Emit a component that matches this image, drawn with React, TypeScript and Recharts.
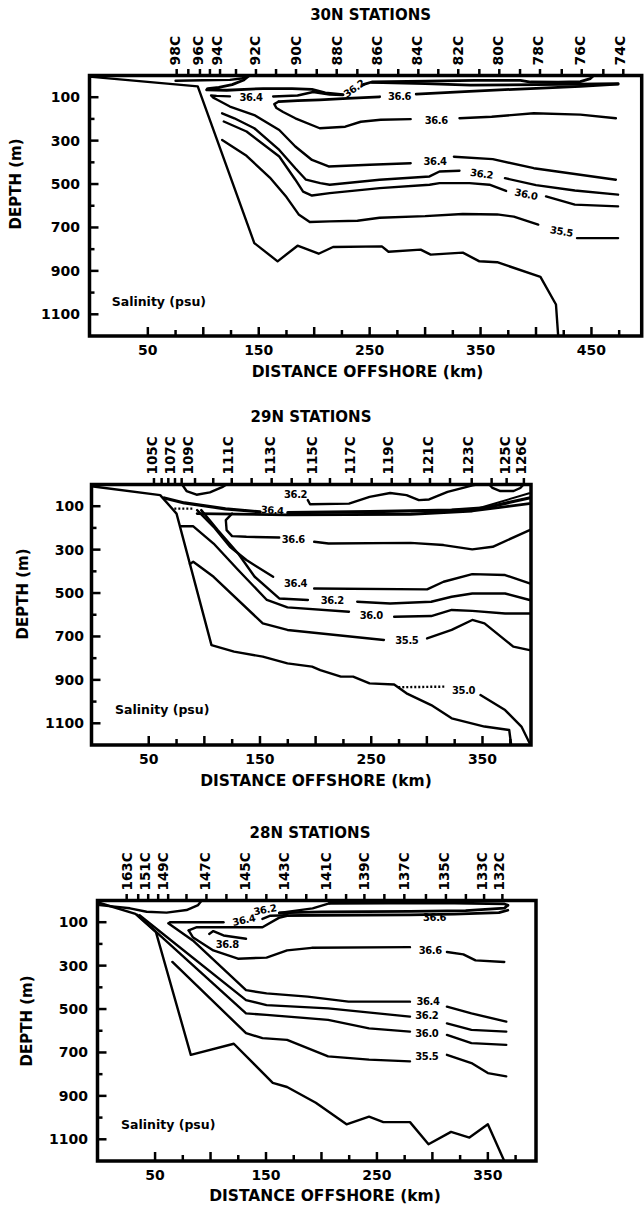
import React from 'react';
import { ComposedChart, Scatter, XAxis, YAxis, ReferenceArea } from 'recharts';

type Pt = [number, number];
type Lbl = [string, number, number, number];

const FONT = '"DejaVu Sans", "Liberation Sans", sans-serif';

// ---------- Panel 1 : 30N ----------
const p1StationTicks = [76.0, 86.5, 97.0, 106.0, 115.1, 129.5, 147.5, 165.6, 183.6, 202.3, 220.3, 238.9, 257.8, 275.8, 293.9, 311.9, 329.9, 348.9, 366.9, 385.6, 403.6, 423.2, 441.2, 460.7, 478.7];
const p1StationNames = ['98C', '96C', '94C', '92C', '90C', '88C', '86C', '84C', '82C', '80C', '78C', '76C', '74C'];
const p1StationPos = [74.5, 95.5, 112.6, 146.6, 183.3, 220.8, 256.4, 292.4, 329.9, 366, 402, 439.7, 475.7];
const p1BottomTicks = [50, 75, 100, 125, 150, 175, 200, 225, 250, 275, 300, 325, 350, 375, 400, 425, 450, 475];

const p1Topo: Pt[] = [[-3, 5], [95, 50], [146, 772], [167, 856], [185, 784], [204, 821], [217, 790], [261, 787], [267, 812], [296, 802], [305, 825], [334, 816], [349, 856], [365, 860], [404, 928], [418, 1055], [420, 1200]];
const p1LensA: Pt[] = [[75, 24], [100, 22], [124, 20], [134, 14], [140, 4]];
const p1C362a: Pt[] = [[141, 2], [136, 22], [126, 42], [114, 55], [104, 60], [103, 66], [121, 68], [154, 60], [180, 60], [198, 64], [210, 80], [226, 88]];
const p1C362b: Pt[] = [[244, 42], [252, 30], [300, 26], [345, 22], [386, 22], [395, 30], [420, 31], [440, 28], [449, 14], [452, 0]];
const p1Surf2: Pt[] = [[252, 32], [300, 37], [341, 44], [400, 42], [474, 38]];
const p1C364a: Pt[] = [[163, 97], [185, 92], [199, 76], [214, 88], [226, 90]];
const p1C364b: Pt[] = [[124, 96], [112, 94], [107, 92], [109, 102], [113, 113], [124, 143], [146, 182], [168.5, 251], [183, 327], [198, 389], [213, 419], [250, 411], [287, 404]];
const p1C364c: Pt[] = [[326, 374], [361, 385], [398, 427], [472, 480]];
const p1C366a: Pt[] = [[168, 120], [185, 116], [205, 112], [230, 105], [259, 98]];
const p1C366b: Pt[] = [[292, 86], [340, 73], [395, 60], [440, 50], [474, 40]];
const p1C366c: Pt[] = [[168, 120], [164, 132], [166, 150], [172, 168], [183, 197], [205, 243], [228, 236], [242, 213], [260, 204], [287, 201]];
const p1C366d: Pt[] = [[331, 197], [360, 190], [398, 174], [440, 180], [472, 197]];
const p1C362c: Pt[] = [[117, 174], [128, 197], [146, 243], [168.5, 343], [183, 427], [192.6, 480], [205.5, 496], [214, 503], [259, 480], [304, 465], [313, 442], [331, 439]];
const p1C362d: Pt[] = [[372, 473], [400, 505], [435, 530], [474, 549]];
const p1C360a: Pt[] = [[118.5, 212], [139, 258], [168.5, 373], [183, 480], [190, 535], [198, 553], [214, 542], [259, 519], [304, 503], [313, 496], [340, 496], [358, 503], [373, 532]];
const p1C360b: Pt[] = [[409, 557], [435, 595], [474, 603]];
const p1C355a: Pt[] = [[117, 297], [139, 370], [160, 470], [175, 560], [186, 640], [196, 675], [214, 672], [239, 669], [259, 655], [300, 648], [334, 638], [365, 640], [380, 650], [402, 687]];
const p1C355b: Pt[] = [[437, 749], [474, 749]];
const p1Labels: Lbl[] = [['36.2', 236, 60, -35], ['36.4', 143, 99, 0], ['36.6', 277, 97, 0], ['36.6', 310, 205, 0], ['36.4', 309, 398, 0], ['36.2', 351, 453, 8], ['36.0', 391, 547, 12], ['35.5', 423, 718, 10]];

// ---------- Panel 2 : 29N ----------
const p2StationTicks = [54.7, 61.6, 67.6, 73.6, 79.6, 91.6, 108.0, 124.6, 142.5, 160.5, 178.5, 194.9, 212.9, 232.4, 250.4, 268.4, 284.8, 302.8, 320.8, 340.3, 358.2, 371.7, 387.2];
const p2StationNames = ['105C', '107C', '109C', '111C', '113C', '115C', '117C', '119C', '121C', '123C', '125C', '126C'];
const p2StationPos = [52.7, 69.1, 85.5, 121.5, 159.0, 196.5, 230.9, 265.3, 301.3, 337.2, 370.2, 385];
const p2BottomTicks = [50, 75, 100, 125, 150, 175, 200, 225, 250, 275, 300, 325, 350, 375];

const p2Topo: Pt[] = [[-1.5, 8], [60.3, 49], [75, 134], [106.4, 740], [126.7, 770], [152.5, 793], [174.7, 824], [196.8, 839], [204.2, 855], [222.7, 885], [233.7, 885], [248.5, 916], [270.6, 921], [281.7, 962], [303.9, 1016], [322.3, 1077], [351.8, 1115], [374, 1131], [375.8, 1200]];
const p2LensL: Pt[] = [[80, 0], [84, 30], [93, 47], [105, 36], [116, 12], [120, 0]];
const p2LensR: Pt[] = [[356, 0], [359, 16], [366, 30], [378, 30], [384, 16], [387, 0]];
const p2C362a: Pt[] = [[193, 72], [195, 91], [230, 88], [248.5, 57], [267, 39], [281.7, 49], [292.8, 72], [302, 69], [318.6, 34], [333.4, 14], [341, 4], [345, 0]];
const p2Top1a: Pt[] = [[64, 62], [82, 85], [119, 112], [150, 126]];
const p2Top1b: Pt[] = [[175, 130], [248.5, 125], [322.3, 118], [351.8, 108], [392, 62]];
const p2Top2: Pt[] = [[93.5, 134], [174.7, 140], [285.4, 137], [340.8, 122], [392, 88]];
const p2Top3: Pt[] = [[300, 122], [345, 112], [392, 40]];
const p2C366a: Pt[] = [[124.9, 134], [119.3, 164], [120, 210], [124.9, 238], [137.8, 241], [167.3, 244]];
const p2C366b: Pt[] = [[198.7, 264], [211.6, 272], [285.4, 269], [315, 279], [340.8, 299], [359.2, 287], [392.4, 210]];
const p2C364a: Pt[] = [[93.5, 118], [108.3, 195], [123, 287], [137.8, 348], [161.8, 425]];
const p2C364b: Pt[] = [[198.7, 479], [300.2, 483], [315, 448], [340.8, 413], [370.3, 417], [392.4, 456]];
const p2C362b: Pt[] = [[97.2, 118], [112, 210], [130.4, 318], [145.2, 425], [167.3, 525], [193.1, 532]];
const p2C362c: Pt[] = [[237.4, 540], [267, 548], [303.9, 540], [322.3, 517], [340.8, 502], [370.3, 502], [392.4, 532]];
const p2C360a: Pt[] = [[78.7, 192], [89.8, 192], [108.3, 272], [130.4, 394], [156.2, 532], [174.7, 566], [230, 586]];
const p2C360b: Pt[] = [[270.6, 609], [303.9, 606], [322.3, 578], [340.8, 582], [370.3, 594], [392.4, 594]];
const p2C355a: Pt[] = [[87, 366], [90, 356], [108.3, 425], [152.5, 640], [174.7, 670], [261.4, 716]];
const p2C355b: Pt[] = [[300.2, 709], [322.3, 670], [340.8, 624], [351.8, 640], [377.7, 747], [392.4, 763]];
const p2C350dot: Pt[] = [[274.3, 934], [316.8, 931]];
const p2C350: Pt[] = [[348.2, 970], [370.3, 1039], [385, 1115], [392.4, 1192]];
const p2Dot: Pt[] = [[73, 111], [90, 111]];
const p2Labels: Lbl[] = [['36.2', 182, 47, 0], ['36.4', 161, 118, 5], ['36.6', 180, 254, 0], ['36.4', 182, 456, 0], ['36.2', 215, 534, 0], ['36.0', 250, 601, 0], ['35.5', 282, 716, 0], ['35.0', 333, 947, 0]];

// ---------- Panel 3 : 28N ----------
const p3StationTicks = [24.4, 34.8, 43.8, 52.8, 61.8, 78.3, 96.3, 114.3, 132.3, 150.3, 168.3, 186.3, 204.2, 222.2, 238.7, 256.7, 274.7, 294.2, 312.2, 330.2, 346.6, 363.1];
const p3StationNames = ['163C', '151C', '149C', '147C', '145C', '143C', '141C', '139C', '137C', '135C', '133C', '132C'];
const p3StationPos = [24.4, 40.8, 57.3, 94.8, 130.8, 166.8, 204.3, 238.7, 274.7, 310.7, 345.2, 360.2];
const p3BottomTicks = [50, 75, 100, 125, 150, 175, 200, 225, 250, 275, 300, 325, 350, 375];

const p3Topo: Pt[] = [[-2, 8], [32.3, 62], [50.8, 146], [82.2, 711], [121, 660], [156.1, 840], [169, 859], [194.9, 932], [222.6, 1031], [242.9, 996], [255.8, 1021], [279.8, 1021], [296.5, 1123], [316.8, 1066], [333.4, 1092], [350, 1031], [364.8, 1200]];
const p3LensL: Pt[] = [[-2, 20], [27.4, 36], [42.4, 52], [60.4, 56], [78.4, 44], [88.8, 21], [92, 0]];
const p3C362a: Pt[] = [[162, 57], [192, 36], [207, 13], [212, 0]];
const p3Sa: Pt[] = [[207, 13], [260, 12], [320, 12], [365, 16], [368, 22]];
const p3Sb: Pt[] = [[162, 57], [200, 52], [280, 50], [330, 47], [365, 35], [368, 22]];
const p3Sc: Pt[] = [[166, 70], [200, 68], [280, 66], [320, 63], [360, 56], [368, 45]];
const p3C364a: Pt[] = [[63.7, 100], [111.7, 100]];
const p3C364b: Pt[] = [[146.8, 85], [154, 70], [169, 68]];
const p3C366a: Pt[] = [[80.3, 138], [87.7, 123], [146.8, 123], [161.6, 80], [170, 70]];
const p3C368: Pt[] = [[98.8, 154], [102.5, 141], [111.7, 161], [132, 176]];
const p3C366b: Pt[] = [[80.3, 138], [84, 169], [102.5, 230], [124.7, 268], [150.5, 263], [169, 230], [191.2, 218], [279.8, 215]];
const p3C366c: Pt[] = [[313.1, 237], [327.9, 248], [338.9, 276], [364.8, 283]];
const p3C364c: Pt[] = [[63.7, 100], [61.9, 105], [84, 184], [132, 413], [150.5, 428], [187.5, 443], [224.4, 466], [279.8, 466]];
const p3C364d: Pt[] = [[313.1, 489], [335.2, 520], [366.6, 558]];
const p3C362b: Pt[] = [[36, 68], [132, 459], [150.5, 482], [206, 497], [279.8, 535]];
const p3C362c: Pt[] = [[313.1, 566], [335.2, 596], [366.6, 604]];
const p3C360a: Pt[] = [[34, 66], [132, 520], [150.5, 527], [206, 550], [242.9, 589], [279.8, 604]];
const p3C360b: Pt[] = [[313.1, 619], [335.2, 657], [366.6, 665]];
const p3C355a: Pt[] = [[65.6, 283], [132, 611], [146.8, 634], [169, 642], [206, 718], [242.9, 733], [279.8, 741]];
const p3C355b: Pt[] = [[313.1, 711], [335.2, 749], [350, 795], [366.6, 810]];
const p3Labels: Lbl[] = [['36.2', 149, 42, -10], ['36.4', 130, 90, -12], ['36.6', 302, 76, 0], ['36.8', 115, 200, 0], ['36.6', 298, 230, 0], ['36.4', 296, 466, 0], ['36.2', 295, 528, 0], ['36.0', 295, 610, 0], ['35.5', 295, 720, 0]];

const yTicks = [100, 200, 300, 400, 500, 600, 700, 800, 900, 1000, 1100];

type Series = { pts: Pt[]; w?: number; dash?: boolean };

type PanelCfg = {
  top: number;
  height: number;
  margin: { top: number; right: number; bottom: number; left: number };
  xDomain: [number, number];
  bottomTicks: number[];
  stationTicks: number[];
  stationNames: string[];
  stationPos: number[];
  stationFont: number;
  yGap: number;
  lines: Series[];
  labels: Lbl[];
};

const toXY = (a: Pt[]) => a.map(([x, y]) => ({ x, y }));

const NoShape = () => <g />;

function Panel({ cfg }: { cfg: PanelCfg }) {
  const tickSet = new Set(cfg.stationTicks);
  const nameMap = new Map<number, string>();
  cfg.stationPos.forEach((p, i) => nameMap.set(p, cfg.stationNames[i]));
  const topTicks = Array.from(new Set([...cfg.stationTicks, ...cfg.stationPos])).sort((a, b) => a - b);

  const TopTick = (props: any) => {
    const { x, y, payload } = props;
    const v = payload.value;
    const name = nameMap.get(v);
    return (
      <g>
        {tickSet.has(v) && <line x1={x} x2={x} y1={y} y2={y - 6.5} stroke="#000" strokeWidth={2.5} />}
        {name && (
          <text x={x} y={y - 10} dy="0.36em" textAnchor="start" transform={`rotate(-90, ${x}, ${y - 10})`}
            fontFamily={FONT} fontWeight="bold" fontSize={cfg.stationFont} fill="#000">{name}</text>
        )}
      </g>
    );
  };

  const BottomTick = (props: any) => {
    const { x, y, payload } = props;
    const v = payload.value;
    const major = v % 50 === 0;
    const labeled = v % 100 === 50;
    return (
      <g>
        <line x1={x} x2={x} y1={y} y2={y - (major ? 9 : 6)} stroke="#000" strokeWidth={2.5} />
        {labeled && (
          <text x={x} y={y + 19} textAnchor="middle" fontFamily={FONT} fontWeight="bold" fontSize={14} fill="#000">{v}</text>
        )}
      </g>
    );
  };

  const LeftTick = (props: any) => {
    const { x, y, payload } = props;
    const v = payload.value;
    const labeled = v % 200 === 100;
    return (
      <g>
        <line x1={x} x2={x + (labeled ? 9 : 5)} y1={y} y2={y} stroke="#000" strokeWidth={2.5} />
        {labeled && (
          <text x={x - cfg.yGap} y={y} dy="0.36em" textAnchor="end" fontFamily={FONT} fontWeight="bold" fontSize={14} fill="#000">{v}</text>
        )}
      </g>
    );
  };

  const LabelShape = (p: any) => {
    const { cx, cy, payload } = p;
    return (
      <text x={cx} y={cy} dy="0.36em" textAnchor="middle" transform={`rotate(${payload.r}, ${cx}, ${cy})`}
        fontFamily={FONT} fontWeight="bold" fontSize={10} letterSpacing={-0.4} fill="#000">{payload.t}</text>
    );
  };

  return (
    <div style={{ position: 'absolute', left: 0, top: cfg.top }}>
      <ComposedChart width={644} height={cfg.height} margin={cfg.margin}>
        <XAxis type="number" dataKey="x" domain={cfg.xDomain} allowDataOverflow ticks={cfg.bottomTicks} interval={0}
          tickSize={0} tickMargin={0} axisLine={false} tickLine={false} height={30} tick={BottomTick} />
        <XAxis xAxisId="top" orientation="top" type="number" dataKey="x" domain={cfg.xDomain} allowDataOverflow ticks={topTicks}
          interval={0} tickSize={0} tickMargin={0} axisLine={false} tickLine={false} height={50} tick={TopTick} />
        <YAxis type="number" dataKey="y" domain={[0, 1200]} reversed allowDataOverflow ticks={yTicks} interval={0}
          tickSize={0} tickMargin={0} axisLine={false} tickLine={false} width={60} tick={LeftTick} />
        {cfg.lines.map((s, i) => (
          <Scatter key={'l' + i} data={toXY(s.pts)} fill="#000" isAnimationActive={false} shape={NoShape}
            line={{ stroke: '#000', strokeWidth: s.w ?? 2.4, strokeDasharray: s.dash ? '2 2' : undefined, strokeLinejoin: 'round', strokeLinecap: s.dash ? 'butt' : 'round' }} />
        ))}
        <Scatter data={cfg.labels.map(([t, x, y, r]) => ({ x, y, t, r }))} fill="#000" isAnimationActive={false} shape={LabelShape} />
        <ReferenceArea x1={cfg.xDomain[0]} x2={cfg.xDomain[1]} y1={0} y2={1200} fill="none" stroke="#000" strokeWidth={3.5} ifOverflow="visible" />
      </ComposedChart>
    </div>
  );
}

const p1: PanelCfg = {
  top: 0, height: 400, margin: { top: 25.5, right: 2.3, bottom: 34, left: 29.5 }, xDomain: [-2.6, 495.3],
  bottomTicks: p1BottomTicks, stationTicks: p1StationTicks, stationNames: p1StationNames, stationPos: p1StationPos, stationFont: 14, yGap: 9.5,
  lines: [
    { pts: p1Topo }, { pts: p1LensA }, { pts: p1C362a, w: 2.8 }, { pts: p1C362b, w: 2.8 }, { pts: p1Surf2, w: 2.8 },
    { pts: p1C364a }, { pts: p1C364b }, { pts: p1C364c }, { pts: p1C366a, w: 2.8 }, { pts: p1C366b, w: 2.8 },
    { pts: p1C366c }, { pts: p1C366d }, { pts: p1C362c }, { pts: p1C362d }, { pts: p1C360a }, { pts: p1C360b },
    { pts: p1C355a }, { pts: p1C355b },
  ],
  labels: p1Labels,
};

const p2: PanelCfg = {
  top: 400, height: 400, margin: { top: 34.5, right: 113, bottom: 25, left: 31.5 }, xDomain: [-1.44, 393.6],
  bottomTicks: p2BottomTicks, stationTicks: p2StationTicks, stationNames: p2StationNames, stationPos: p2StationPos, stationFont: 13.5, yGap: 7.5,
  lines: [
    { pts: p2Topo }, { pts: p2LensL }, { pts: p2LensR }, { pts: p2C362a }, { pts: p2Top1a, w: 3.2 }, { pts: p2Top1b, w: 3.2 },
    { pts: p2Top2, w: 2.8 }, { pts: p2Top3, w: 2 }, { pts: p2C366a }, { pts: p2C366b }, { pts: p2C364a }, { pts: p2C364b },
    { pts: p2C362b }, { pts: p2C362c }, { pts: p2C360a }, { pts: p2C360b }, { pts: p2C355a }, { pts: p2C355b },
    { pts: p2C350dot, dash: true }, { pts: p2C350 }, { pts: p2Dot, dash: true },
  ],
  labels: p2Labels,
};

const p3: PanelCfg = {
  top: 800, height: 409, margin: { top: 50.5, right: 108, bottom: 18, left: 37.5 }, xDomain: [-1.9, 393.4],
  bottomTicks: p3BottomTicks, stationTicks: p3StationTicks, stationNames: p3StationNames, stationPos: p3StationPos, stationFont: 13.5, yGap: 9.5,
  lines: [
    { pts: p3Topo }, { pts: p3LensL }, { pts: p3C362a }, { pts: p3Sa, w: 2.8 }, { pts: p3Sb, w: 2.8 }, { pts: p3Sc, w: 2.8 },
    { pts: p3C364a }, { pts: p3C364b }, { pts: p3C366a }, { pts: p3C368 }, { pts: p3C366b }, { pts: p3C366c },
    { pts: p3C364c }, { pts: p3C364d }, { pts: p3C362b }, { pts: p3C362c }, { pts: p3C360a }, { pts: p3C360b },
    { pts: p3C355a }, { pts: p3C355b },
  ],
  labels: p3Labels,
};

const T = ({ x, y, size, rot = 0, left = false, children }: { x: number; y: number; size: number; rot?: number; left?: boolean; children: React.ReactNode }) => (
  <div style={{
    position: 'absolute', left: x, top: y,
    transform: left ? 'translate(0,-50%)' : `translate(-50%,-50%) rotate(${rot}deg)`,
    fontFamily: FONT, fontWeight: 'bold', fontSize: size, lineHeight: 1, whiteSpace: 'nowrap', color: '#000',
  }}>{children}</div>
);

export default function App() {
  return (
    <div style={{ position: 'absolute', left: 0, top: 0, width: 644, height: 1209, background: '#fff', overflow: 'hidden' }}>
      <Panel cfg={p1} />
      <Panel cfg={p2} />
      <Panel cfg={p3} />
      <T x={370.6} y={15} size={15}>30N STATIONS</T>
      <T x={367.6} y={373.3} size={15.5}>DISTANCE OFFSHORE (km)</T>
      <T x={15.5} y={183.5} size={15} rot={-90}>DEPTH (m)</T>
      <T x={111.7} y={301.7} size={12.5} left>Salinity (psu)</T>

      <T x={311} y={417} size={15}>29N STATIONS</T>
      <T x={316} y={782} size={15.5}>DISTANCE OFFSHORE (km)</T>
      <T x={22.6} y={594} size={15} rot={-90}>DEPTH (m)</T>
      <T x={115} y={710} size={12.5} left>Salinity (psu)</T>

      <T x={310} y={833} size={15}>28N STATIONS</T>
      <T x={325} y={1196.7} size={15.5}>DISTANCE OFFSHORE (km)</T>
      <T x={26.7} y={1021} size={15} rot={-90}>DEPTH (m)</T>
      <T x={121} y={1125} size={12.5} left>Salinity (psu)</T>
    </div>
  );
}
